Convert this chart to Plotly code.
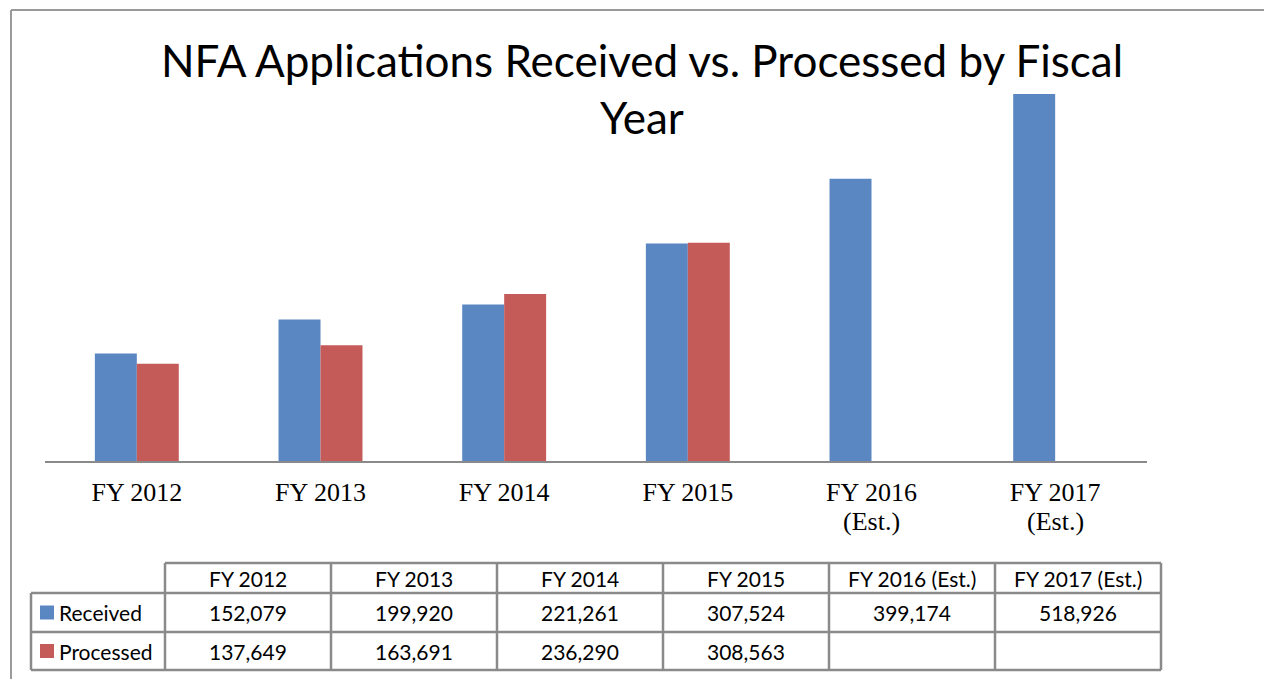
import plotly.graph_objects as go

# ---------------------------------------------------------------------------
# data
# ---------------------------------------------------------------------------
axis_labels = ["FY 2012", "FY 2013", "FY 2014", "FY 2015", "FY 2016", "FY 2017"]
axis_sublabels = ["", "", "", "", "(Est.)", "(Est.)"]
table_headers = ["FY 2012", "FY 2013", "FY 2014", "FY 2015",
                 "FY 2016 (Est.)", "FY 2017 (Est.)"]
received = [152079, 199920, 221261, 307524, 399174, 518926]
processed = [137649, 163691, 236290, 308563, None, None]

series_names = ["Received", "Processed"]
series_colors = ["#5A87C2", "#C45B58"]

# page is rendered with an 8px body margin, so size the figure to fit
OFF = 8
W, H = 1272 - OFF, 679 - OFF
BORDER = "#8A8A8A"
SERIF = "Liberation Serif, Times New Roman, serif"


def px(x):
    # page pixel -> paper x
    return (x - OFF) / W


def py(y):
    # page pixel -> paper y
    return 1 - (y - OFF) / H


fig = go.Figure()
for name, vals, color in zip(series_names, [received, processed], series_colors):
    fig.add_trace(go.Bar(
        name=name,
        x=list(range(len(axis_labels))),
        y=vals,
        marker=dict(color=color, line=dict(width=0)),
        showlegend=False,
        hoverinfo="skip",
    ))

shapes = []
annotations = []

# second line of the category labels, tighter than plotly's <br> spacing
for i, sub in enumerate(axis_sublabels):
    if not sub:
        continue
    annotations.append(dict(
        xref="x", yref="paper", x=i, y=py(521),
        text=sub, showarrow=False,
        font=dict(family=SERIF, size=26, color="black"),
        xanchor="center", yanchor="middle",
    ))

# ---------------------------------------------------------------------------
# data table under the chart (shapes + annotations in paper coords)
# ---------------------------------------------------------------------------
tbl_left, tbl_first, col_w = 31, 165, 166
row_tops = [563, 593, 632, 670]
label_font = dict(family="Lato, Calibri, sans-serif", size=21, color="black")

n_cols = len(table_headers)
x_right = tbl_first + n_cols * col_w
line_style = dict(color=BORDER, width=2.5)

# horizontal lines
shapes.append(dict(type="line", xref="paper", yref="paper",
                   x0=px(tbl_first), x1=px(x_right),
                   y0=py(row_tops[0]), y1=py(row_tops[0]), line=line_style))
for y in row_tops[1:]:
    shapes.append(dict(type="line", xref="paper", yref="paper",
                       x0=px(tbl_left), x1=px(x_right),
                       y0=py(y), y1=py(y), line=line_style))
# vertical lines
shapes.append(dict(type="line", xref="paper", yref="paper",
                   x0=px(tbl_left), x1=px(tbl_left),
                   y0=py(row_tops[1]), y1=py(row_tops[-1]), line=line_style))
for c in range(n_cols + 1):
    x = tbl_first + c * col_w
    shapes.append(dict(type="line", xref="paper", yref="paper",
                       x0=px(x), x1=px(x),
                       y0=py(row_tops[0]), y1=py(row_tops[-1]), line=line_style))

# header text
for c, h in enumerate(table_headers):
    annotations.append(dict(
        xref="paper", yref="paper",
        x=px(tbl_first + (c + 0.5) * col_w),
        y=py((row_tops[0] + row_tops[1]) / 2),
        text=h, showarrow=False, font=label_font,
        xanchor="center", yanchor="middle",
    ))

# series rows
for r, (name, vals, color) in enumerate(zip(series_names, [received, processed], series_colors)):
    top, bot = row_tops[r + 1], row_tops[r + 2]
    mid = (top + bot) / 2
    shapes.append(dict(type="rect", xref="paper", yref="paper",
                       x0=px(40), x1=px(54), y0=py(mid - 7), y1=py(mid + 7),
                       fillcolor=color, line=dict(width=0)))
    annotations.append(dict(
        xref="paper", yref="paper", x=px(57), y=py(mid),
        text=name, showarrow=False, font=label_font,
        xanchor="left", yanchor="middle",
    ))
    for c, v in enumerate(vals):
        if v is None:
            continue
        annotations.append(dict(
            xref="paper", yref="paper",
            x=px(tbl_first + (c + 0.5) * col_w), y=py(mid),
            text=f"{v:,}", showarrow=False, font=label_font,
            xanchor="center", yanchor="middle",
        ))

# outer frame (top + left edges only visible)
frame = dict(color="#9A9A9A", width=2)
shapes.append(dict(type="line", xref="paper", yref="paper",
                   x0=px(11), x1=1, y0=py(10), y1=py(10), line=frame))
shapes.append(dict(type="line", xref="paper", yref="paper",
                   x0=px(11), x1=px(11), y0=py(10), y1=0, line=frame))

fig.update_layout(
    width=W, height=H,
    margin=dict(l=0, r=0, t=0, b=0),
    paper_bgcolor="white",
    plot_bgcolor="white",
    barmode="group",
    bargap=0.543,
    bargroupgap=0,
    title=dict(
        text="NFA Applications Received vs. Processed by Fiscal<br>Year",
        x=px(642), xanchor="center",
        y=py(77), yanchor="top",
        font=dict(family="Lato, Calibri, sans-serif", size=44, color="black"),
    ),
    xaxis=dict(
        domain=[px(45), px(1147)],
        range=[-0.5, len(axis_labels) - 0.5],
        tickmode="array",
        tickvals=list(range(len(axis_labels))),
        ticktext=axis_labels,
        showline=True, linecolor="#8A8A8A", linewidth=2,
        showgrid=False, zeroline=False,
        ticks="", ticklabelstandoff=7,
        tickfont=dict(family=SERIF, size=26, color="black"),
    ),
    yaxis=dict(
        domain=[py(461), py(60)],
        range=[0, 567000],
        visible=False,
    ),
    shapes=shapes,
    annotations=annotations,
)

fig.write_html("out.html")
